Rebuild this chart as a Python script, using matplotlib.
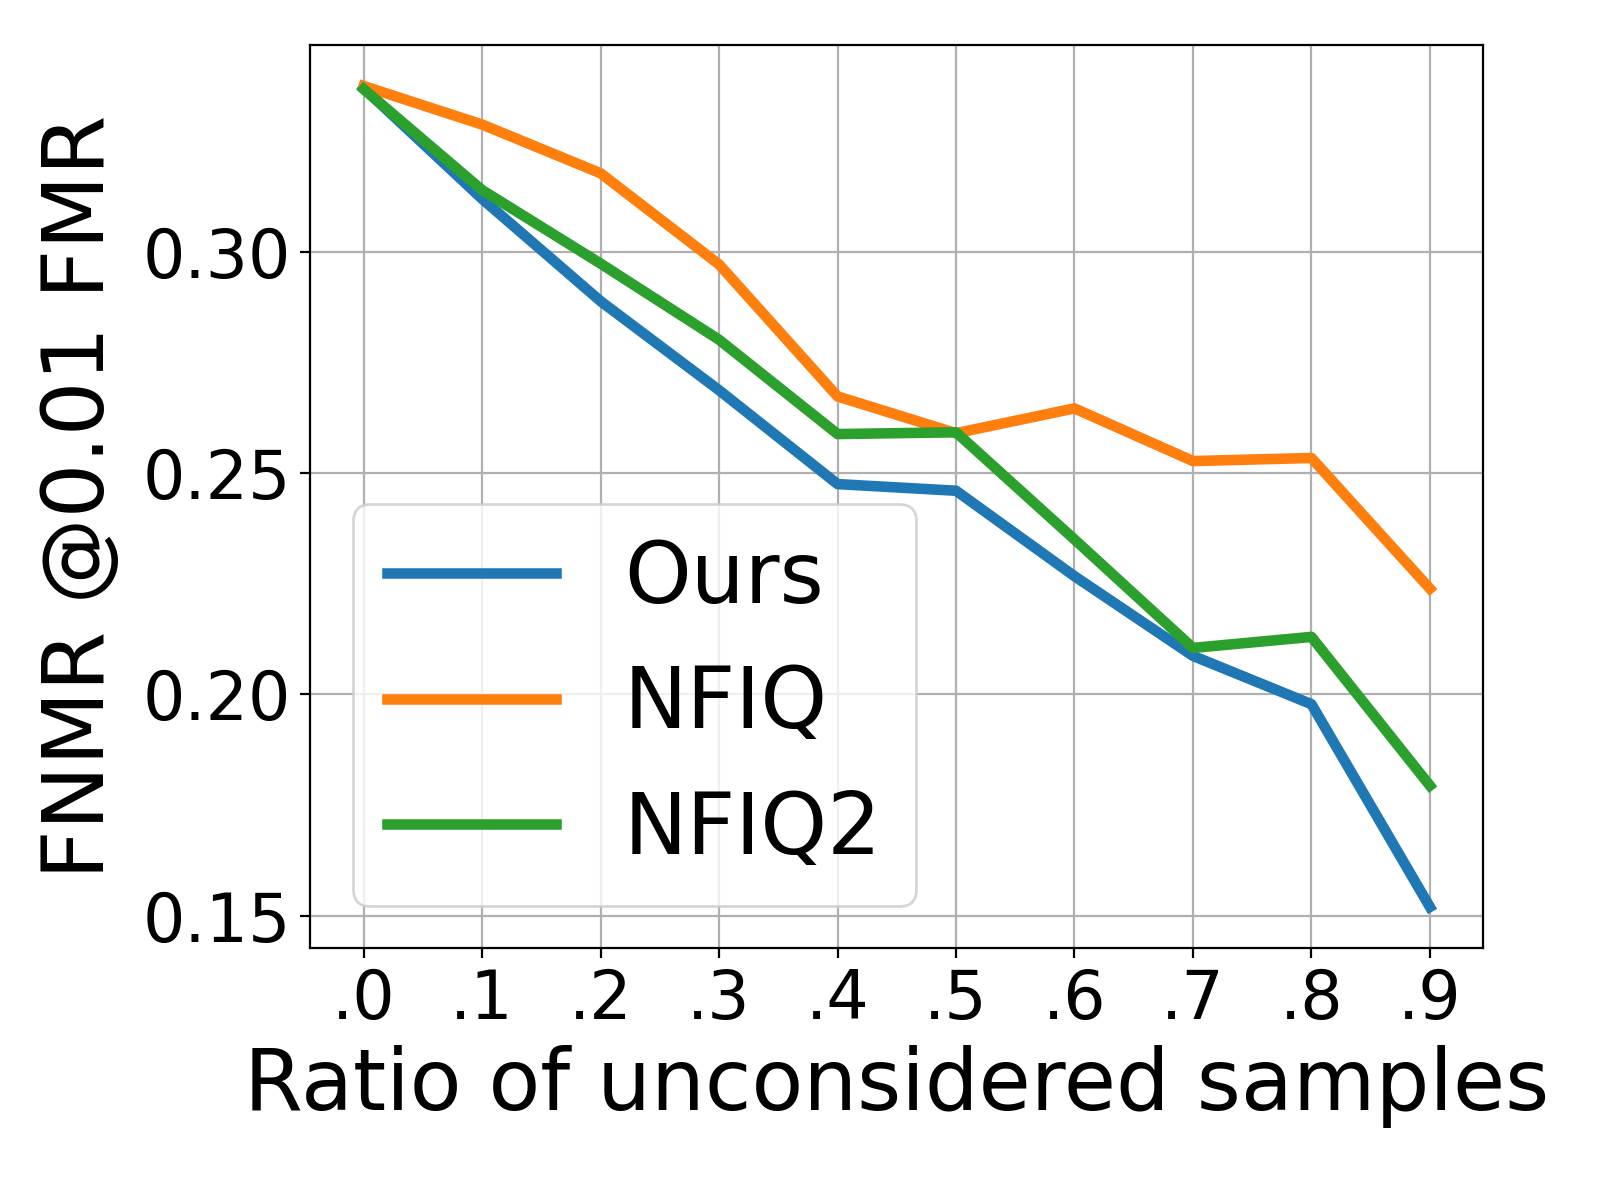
import numpy as np
import matplotlib
matplotlib.use("Agg")
import matplotlib.pyplot as plt

# ratio of unconsidered samples
ratios = [0.0, 0.1, 0.2, 0.3, 0.4, 0.5, 0.6, 0.7, 0.8, 0.9]
tick_labels = [".0", ".1", ".2", ".3", ".4", ".5", ".6", ".7", ".8", ".9"]

# FNMR @0.01 FMR
ours = [0.3369, 0.3119, 0.2888, 0.2687, 0.2475, 0.2460, 0.2267, 0.2087, 0.1978, 0.1520]
nfiq = [0.3374, 0.3287, 0.3177, 0.2971, 0.2673, 0.2590, 0.2646, 0.2527, 0.2534, 0.2239]
nfiq2 = [0.3367, 0.3139, 0.2973, 0.2801, 0.2588, 0.2592, 0.2350, 0.2105, 0.2130, 0.1794]

fig, ax = plt.subplots(figsize=(8, 6), dpi=200)
fig.subplots_adjust(left=0.194, right=0.927, top=0.9625, bottom=0.21)

ax.plot(ratios, ours, linewidth=3.8, label="Ours")
ax.plot(ratios, nfiq, linewidth=3.8, label="NFIQ")
ax.plot(ratios, nfiq2, linewidth=3.8, label="NFIQ2")

ax.set_xticks(ratios)
ax.set_xticklabels(tick_labels)
ax.set_yticks([0.15, 0.20, 0.25, 0.30])
ax.set_yticklabels(["0.15", "0.20", "0.25", "0.30"])
ax.tick_params(labelsize=24)
ax.set_xlabel("Ratio of unconsidered samples", fontsize=30.5)
ax.set_ylabel("FNMR @0.01 FMR", fontsize=31, labelpad=7.5)
ax.grid(True)
ax.legend(fontsize=30.5, loc="lower left")

fig.savefig("out.png")
